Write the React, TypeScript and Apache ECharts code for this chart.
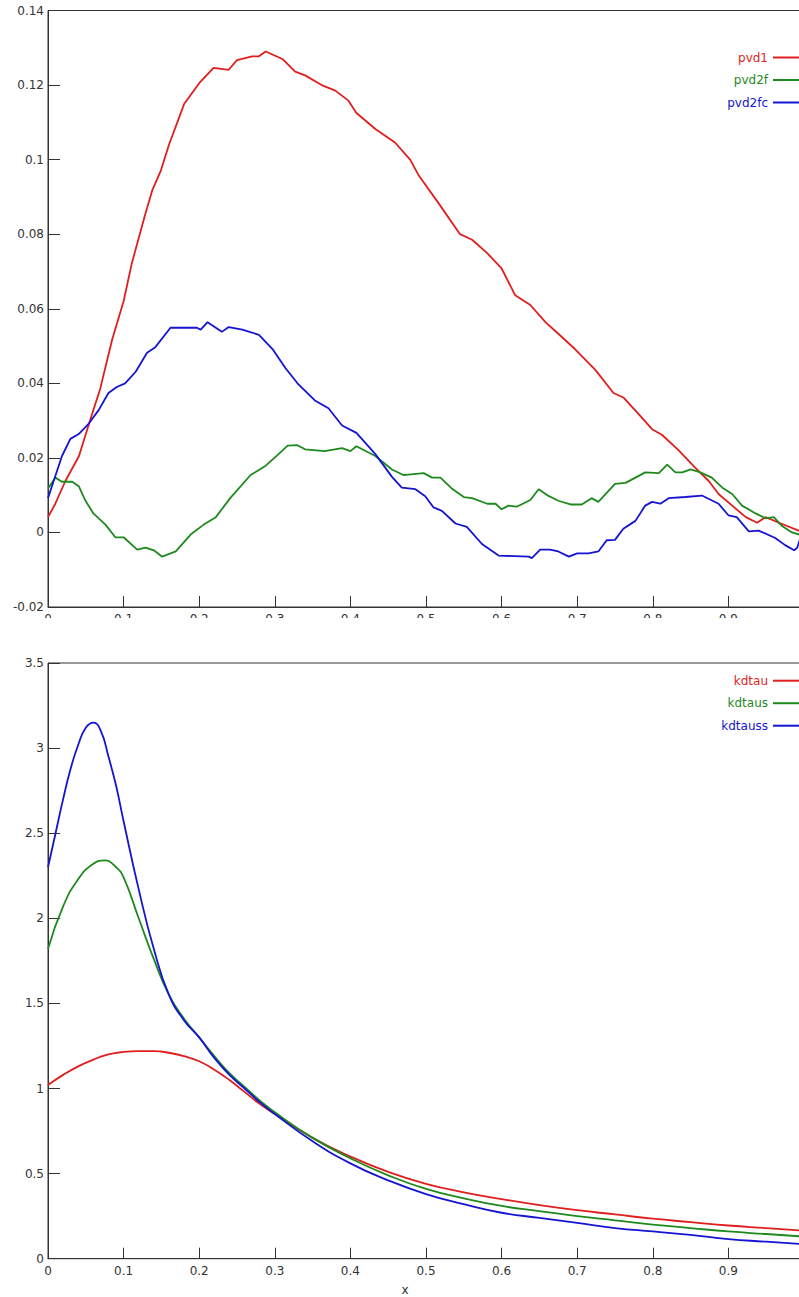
import React, { useEffect, useRef } from "react";
import * as echarts from "echarts";

const RED = "#e01e1e";
const GREEN = "#1e8a1e";
const BLUE = "#1414d2";
const FONT = "DejaVu Sans";

// top panel series (x, y)
const pvd1: number[][] = [
  [0, 0.0041], [0.0097, 0.0077], [0.023, 0.0138], [0.041, 0.0205], [0.056, 0.0303], [0.069, 0.0385],
  [0.085, 0.0518], [0.1, 0.062], [0.111, 0.0723], [0.129, 0.0856], [0.138, 0.0918], [0.149, 0.0969],
  [0.16, 0.104], [0.18, 0.1149], [0.2, 0.1205], [0.219, 0.1246], [0.239, 0.1241], [0.25, 0.1267],
  [0.27, 0.1277], [0.279, 0.1277], [0.288, 0.129], [0.31, 0.127], [0.327, 0.1236], [0.34, 0.1226],
  [0.362, 0.12], [0.38, 0.1185], [0.397, 0.1159], [0.408, 0.1125], [0.433, 0.1082], [0.459, 0.1046],
  [0.479, 0.1], [0.49, 0.0959], [0.517, 0.0882], [0.545, 0.08], [0.561, 0.0785], [0.581, 0.0749],
  [0.6, 0.0708], [0.618, 0.0636], [0.638, 0.061], [0.658, 0.0564], [0.675, 0.0533], [0.697, 0.0492],
  [0.724, 0.0436], [0.748, 0.0374], [0.761, 0.0362], [0.781, 0.0318], [0.799, 0.0277], [0.812, 0.0262],
  [0.834, 0.0221], [0.856, 0.0174], [0.874, 0.0138], [0.887, 0.0103], [0.905, 0.0072], [0.923, 0.0041],
  [0.938, 0.0026], [0.949, 0.0041], [0.967, 0.0026], [0.993, 0.0005], [1.0, 0.0003],
];
const pvd2f: number[][] = [
  [0, 0.0118], [0.0097, 0.0147], [0.0185, 0.0136], [0.032, 0.0136], [0.041, 0.0123], [0.049, 0.0087],
  [0.06, 0.0051], [0.076, 0.0021], [0.089, -0.0013], [0.1, -0.0013], [0.118, -0.0046], [0.129, -0.0041],
  [0.14, -0.0048], [0.151, -0.0065], [0.169, -0.0051], [0.189, -0.0005], [0.206, 0.0021], [0.222, 0.0041],
  [0.241, 0.0092], [0.268, 0.0154], [0.288, 0.0179], [0.305, 0.021], [0.317, 0.0233], [0.33, 0.0234],
  [0.34, 0.0223], [0.366, 0.0218], [0.389, 0.0226], [0.4, 0.0218], [0.408, 0.0231], [0.433, 0.0205],
  [0.455, 0.0169], [0.47, 0.0154], [0.497, 0.0159], [0.508, 0.0147], [0.519, 0.0147], [0.534, 0.0118],
  [0.55, 0.0095], [0.561, 0.0092], [0.581, 0.0077], [0.592, 0.0077], [0.6, 0.0062], [0.609, 0.0072],
  [0.62, 0.0069], [0.638, 0.0087], [0.649, 0.0116], [0.662, 0.0098], [0.675, 0.0085], [0.691, 0.0075],
  [0.706, 0.0075], [0.719, 0.0092], [0.728, 0.0082], [0.75, 0.013], [0.764, 0.0133], [0.79, 0.0161],
  [0.808, 0.0159], [0.819, 0.0182], [0.83, 0.0161], [0.839, 0.0161], [0.85, 0.0169], [0.863, 0.0161],
  [0.878, 0.0147], [0.892, 0.012], [0.905, 0.0103], [0.918, 0.0072], [0.936, 0.0051], [0.949, 0.0038],
  [0.96, 0.0041], [0.971, 0.0017], [0.984, 0.0], [0.996, -0.0007], [1.0, -0.0005],
];
const pvd2fc: number[][] = [
  [0, 0.0092], [0.0075, 0.0138], [0.0185, 0.0205], [0.0296, 0.0251], [0.0406, 0.0264], [0.054, 0.0292],
  [0.067, 0.0328], [0.08, 0.0374], [0.091, 0.039], [0.102, 0.04], [0.116, 0.0431], [0.131, 0.0482],
  [0.142, 0.0497], [0.162, 0.0549], [0.197, 0.0549], [0.202, 0.0544], [0.211, 0.0564], [0.23, 0.0538],
  [0.239, 0.0551], [0.257, 0.0544], [0.279, 0.053], [0.297, 0.0492], [0.314, 0.0441], [0.33, 0.04],
  [0.353, 0.0354], [0.371, 0.0333], [0.389, 0.0287], [0.408, 0.0267], [0.433, 0.021], [0.455, 0.0149],
  [0.468, 0.012], [0.486, 0.0116], [0.499, 0.0097], [0.51, 0.0067], [0.521, 0.0058], [0.539, 0.0024],
  [0.554, 0.0015], [0.574, -0.0031], [0.596, -0.0062], [0.636, -0.0065], [0.64, -0.0069], [0.651, -0.0046],
  [0.664, -0.0046], [0.675, -0.0051], [0.689, -0.0065], [0.7, -0.0056], [0.715, -0.0056], [0.728, -0.0051],
  [0.739, -0.0021], [0.75, -0.002], [0.761, 0.001], [0.777, 0.0031], [0.79, 0.0072], [0.799, 0.0082],
  [0.81, 0.0077], [0.821, 0.0092], [0.843, 0.0095], [0.865, 0.0099], [0.887, 0.0077], [0.9, 0.0046],
  [0.911, 0.0041], [0.927, 0.0003], [0.94, 0.0005], [0.962, -0.0015], [0.975, -0.0034], [0.987, -0.0048],
  [0.991, -0.0041], [0.996, -0.001], [1.0, 0.0008],
];

// bottom panel series (x, y)
const kdtau: number[][] = [
  [0, 1.02], [0.02, 1.08], [0.04, 1.13], [0.06, 1.17], [0.08, 1.2], [0.1, 1.215], [0.12, 1.22],
  [0.14, 1.22], [0.16, 1.21], [0.18, 1.19], [0.2, 1.16], [0.22, 1.11], [0.24, 1.05], [0.26, 0.98],
  [0.28, 0.91], [0.3, 0.85], [0.35, 0.71], [0.4, 0.6], [0.45, 0.51], [0.5, 0.44], [0.55, 0.39],
  [0.6, 0.35], [0.65, 0.315], [0.7, 0.285], [0.75, 0.26], [0.8, 0.235], [0.85, 0.215], [0.9, 0.195],
  [0.95, 0.18], [1, 0.165],
];
const kdtaus: number[][] = [
  [0, 1.82], [0.02, 2.07], [0.04, 2.23], [0.06, 2.32], [0.075, 2.34], [0.09, 2.3], [0.1, 2.24],
  [0.12, 2.0], [0.14, 1.76], [0.16, 1.55], [0.18, 1.41], [0.2, 1.3], [0.22, 1.19], [0.24, 1.09],
  [0.26, 1.01], [0.28, 0.93], [0.3, 0.86], [0.35, 0.71], [0.4, 0.59], [0.45, 0.49], [0.5, 0.41],
  [0.55, 0.355], [0.6, 0.31], [0.65, 0.28], [0.7, 0.25], [0.75, 0.225], [0.8, 0.2], [0.85, 0.18],
  [0.9, 0.16], [0.95, 0.145], [1, 0.13],
];
const kdtauss: number[][] = [
  [0, 2.3], [0.01, 2.5], [0.02, 2.7], [0.03, 2.88], [0.04, 3.02], [0.05, 3.12], [0.06, 3.15],
  [0.07, 3.1], [0.08, 2.95], [0.09, 2.78], [0.1, 2.57], [0.12, 2.17], [0.14, 1.82], [0.16, 1.55],
  [0.18, 1.4], [0.2, 1.3], [0.22, 1.18], [0.24, 1.08], [0.26, 1.0], [0.28, 0.92], [0.3, 0.85],
  [0.35, 0.69], [0.4, 0.56], [0.45, 0.46], [0.5, 0.38], [0.55, 0.32], [0.6, 0.27], [0.65, 0.24],
  [0.7, 0.21], [0.75, 0.18], [0.8, 0.16], [0.85, 0.14], [0.9, 0.115], [0.95, 0.1], [1, 0.085],
];

const AXIS_COLOR = "#333";
const LABEL_COLOR = "#333";

function fmt(v: number) {
  return String(+v.toFixed(3));
}

function baseAxes(yMin: number, yMax: number, yInt: number) {
  return {
    xAxis: {
      type: "value",
      min: 0,
      max: 1,
      interval: 0.1,
      axisLine: { show: true, onZero: false, lineStyle: { color: AXIS_COLOR, width: 1 } },
      axisTick: { show: true, inside: true, length: 11, lineStyle: { color: AXIS_COLOR } },
      axisLabel: {
        color: LABEL_COLOR,
        fontFamily: FONT,
        fontSize: 12,
        margin: 6,
        showMaxLabel: false,
        formatter: fmt,
      },
      splitLine: { show: false },
    },
    yAxis: {
      type: "value",
      min: yMin,
      max: yMax,
      interval: yInt,
      axisLine: { show: true, onZero: false, lineStyle: { color: AXIS_COLOR, width: 1 } },
      axisTick: { show: true, inside: true, length: 12, lineStyle: { color: AXIS_COLOR } },
      axisLabel: { color: LABEL_COLOR, fontFamily: FONT, fontSize: 12, margin: 4, formatter: fmt },
      splitLine: { show: false },
    },
  };
}

function lineSeries(name: string, data: number[][], color: string, smooth: boolean) {
  return {
    name,
    type: "line",
    data,
    color,
    showSymbol: false,
    symbol: "none",
    smooth,
    lineStyle: { color, width: 1.8 },
  };
}

function legend(items: { name: string; color: string }[], top: number) {
  return {
    orient: "vertical",
    right: 2,
    top,
    padding: 0,
    align: "right",
    icon: "rect",
    itemWidth: 31,
    itemHeight: 2,
    itemGap: 8.5,
    textStyle: { fontFamily: FONT, fontSize: 12, lineHeight: 14 },
    data: items.map((it) => ({ name: it.name, textStyle: { color: it.color } })),
  };
}

export default function App() {
  const topRef = useRef<HTMLDivElement>(null);
  const botRef = useRef<HTMLDivElement>(null);

  useEffect(() => {
    const top = echarts.init(topRef.current!, undefined, { renderer: "svg" });
    const bot = echarts.init(botRef.current!, undefined, { renderer: "svg" });

    top.setOption({
      animation: false,
      grid: {
        left: 48, right: 2, top: 10.5, bottom: 11, show: true, borderColor: AXIS_COLOR, borderWidth: 1,
        containLabel: false, outerBoundsMode: "none",
      },
      ...baseAxes(-0.02, 0.14, 0.02),
      legend: legend(
        [
          { name: "pvd1", color: RED },
          { name: "pvd2f", color: GREEN },
          { name: "pvd2fc", color: BLUE },
        ],
        50.5
      ),
      series: [
        lineSeries("pvd1", pvd1, RED, false),
        lineSeries("pvd2f", pvd2f, GREEN, false),
        lineSeries("pvd2fc", pvd2fc, BLUE, false),
      ],
    });

    bot.setOption({
      animation: false,
      grid: {
        left: 48, right: 2, top: 45, bottom: 38.3, show: true, borderColor: AXIS_COLOR, borderWidth: 1,
        containLabel: false, outerBoundsMode: "none",
      },
      ...baseAxes(0, 3.5, 0.5),
      legend: legend(
        [
          { name: "kdtau", color: RED },
          { name: "kdtaus", color: GREEN },
          { name: "kdtauss", color: BLUE },
        ],
        55.7
      ),
      graphic: [
        {
          type: "text",
          x: 405,
          y: 672,
          style: { text: "x", fill: LABEL_COLOR, font: `12px "${FONT}"`, textAlign: "center", textVerticalAlign: "middle" },
        },
      ],
      series: [
        lineSeries("kdtau", kdtau, RED, true),
        lineSeries("kdtaus", kdtaus, GREEN, true),
        lineSeries("kdtauss", kdtauss, BLUE, true),
      ],
    });

    return () => {
      top.dispose();
      bot.dispose();
    };
  }, []);

  return (
    <div style={{ position: "absolute", left: 0, top: 0, width: 799, height: 1297, overflow: "hidden", background: "#fff" }}>
      <div ref={topRef} style={{ position: "absolute", left: 0, top: 0, width: 806, height: 618 }} />
      <div ref={botRef} style={{ position: "absolute", left: 0, top: 618, width: 806, height: 679 }} />
    </div>
  );
}
